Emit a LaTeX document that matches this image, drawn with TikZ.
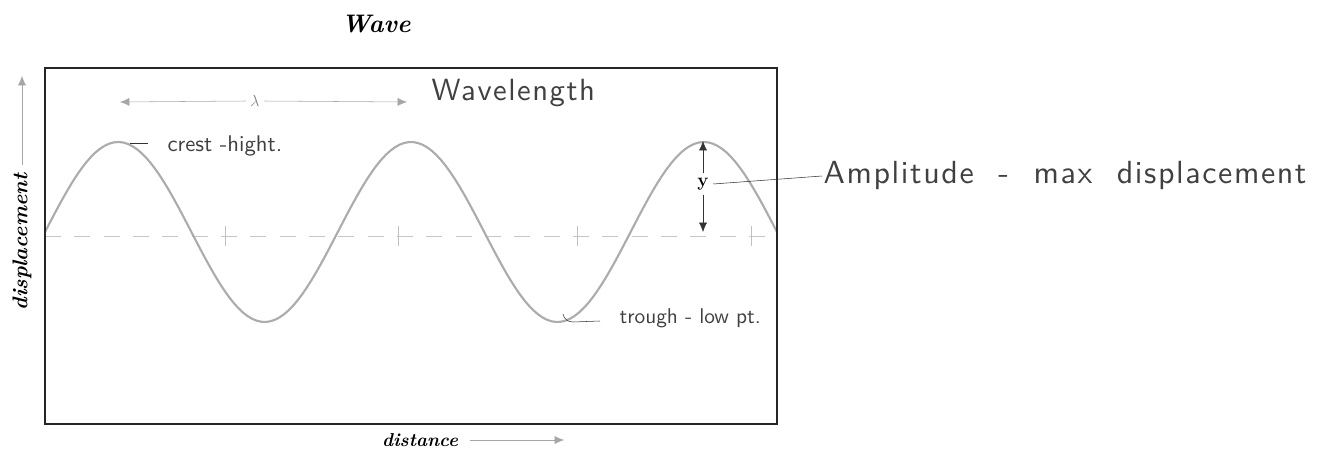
\documentclass[tikz,border=0pt]{standalone}
\usepackage{fontspec}
\usetikzlibrary{arrows.meta}
\newfontfamily\handfont{lmsans10-regular.otf}[LetterSpace=5, WordSpace=2]
\newfontfamily\handtight{lmsans10-regular.otf}

\tikzset{
    printed/.style={font=\fontsize{14}{16}\selectfont\bfseries\itshape},
    hand/.style={font=\handfont\fontsize{23}{25}\selectfont, text=black!75, inner sep=1pt},
    handsmall/.style={font=\handtight\fontsize{17}{19}\selectfont, text=black!75, inner sep=1pt},
    wave/.style={gray!65, line width=1.6pt},
    tip/.style={-{Latex[length=7pt,width=6pt]}},
}

\begin{document}
\begin{tikzpicture}[x=0.75pt, y=-0.75pt]
    \useasboundingbox (0,0) rectangle (1332,449);
    % frame and axis line
    \draw[gray!45, dashed, dash pattern=on 12pt off 10pt] (45,236) -- (777,236);
    \foreach \t in {225,398,577,751}{
        \draw[gray!50] (\t,226) -- (\t,246);
    }
    \draw[wave] plot[domain=45:777, samples=160] (\x, {232-90*sin(1.2295*(\x-45))});
    \draw[black!85, line width=1.5pt] (45,68) rectangle (777,424);

    % printed labels
    \node[printed, font=\fontsize{19}{21}\selectfont\bfseries\itshape] (title) at (376,24) {Wave};
    \node[printed, font=\fontsize{16}{18}\selectfont\bfseries\itshape, rotate=90] (ylabel) at (22,242) {displacement};
    \node[printed] (xlabel) at (420,440) {distance};
    \coordinate (yarrowtop) at (22,76);
    \coordinate (xarrowend) at (564,440);
    \draw[tip, gray!70] (22,165) -- (yarrowtop);
    \draw[tip, gray!70] (470,440) -- (xarrowend);

    % wavelength
    \node[font=\fontsize{12}{12}\selectfont, text=gray] (lambda) at (255,101) {$\lambda$};
    \coordinate (lamleft) at (120,102);
    \coordinate (lamright) at (407,102);
    \draw[tip, gray!70] (lambda.west) -- (lamleft);
    \draw[tip, gray!70] (lambda.east) -- (lamright);
    \node[hand, anchor=west] (wavelength) at (430,93) {Wavelength};

    % amplitude
    \node[font=\fontsize{14}{14}\selectfont\bfseries] (ylab) at (703,184) {y};
    \coordinate (crest) at (703,141);
    \coordinate (base) at (703,232);
    \draw[tip, black!80] (ylab.north) -- (crest);
    \draw[tip, black!80] (ylab.south) -- (base);
    \node[hand, font=\handfont\fontsize{24}{26}\selectfont, anchor=west] (amplitude) at (822,176) {Amplitude - max displacement};
    \draw[black!80] (ylab.east) -- (amplitude.west);

    % crest and trough
    \coordinate (crestpt) at (130,143);
    \node[handsmall, anchor=west] (crestlab) at (166,146) {crest -hight.};
    \draw[black!80] (crestpt) -- ++(18,0);
    \coordinate (troughpt) at (563,314);
    \node[handsmall, font=\handtight\fontsize{16}{18}\selectfont, anchor=west] (troughlab) at (618,318) {trough - low pt.};
    \draw[black!80] (troughpt) to[out=-80, in=180] ++(10,8) -- ++(27,-1);
\end{tikzpicture}
\end{document}
